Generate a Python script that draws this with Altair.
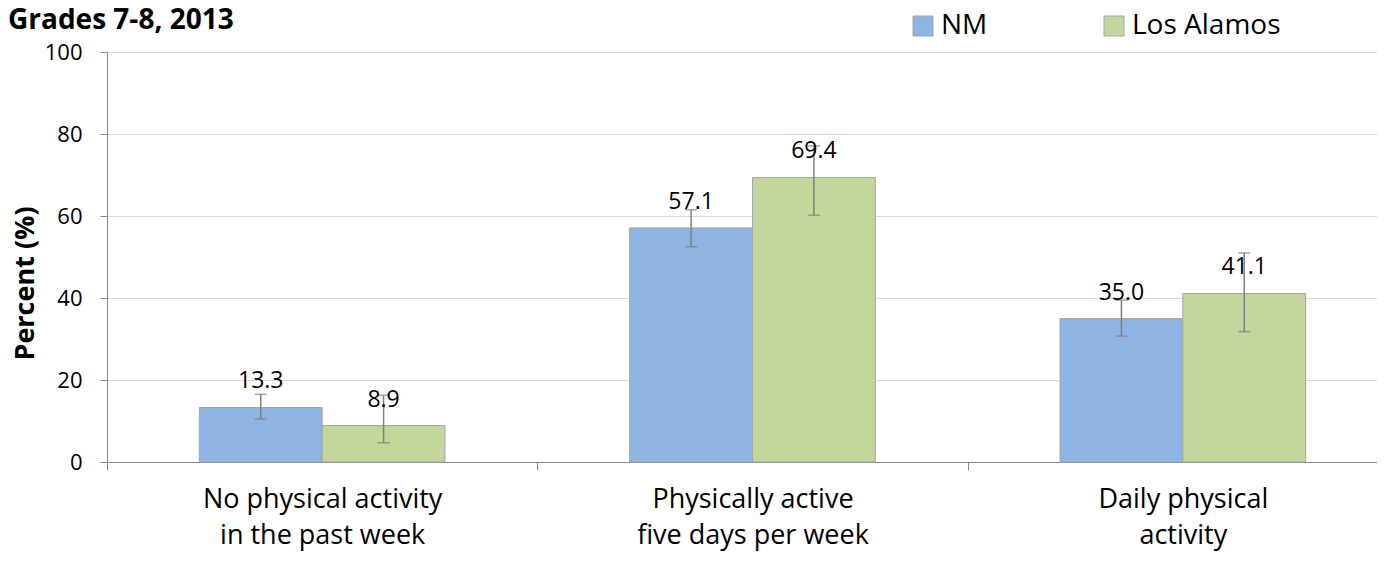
import altair as alt
import pandas as pd

categories = ["No physical activity|in the past week",
              "Physically active|five days per week",
              "Daily physical|activity"]
series = ["NM", "Los Alamos"]
nm_values = [13.3, 57.1, 35.0]
la_values = [8.9, 69.4, 41.1]
nm_low = [10.5, 52.5, 30.7]
nm_high = [16.5, 61.5, 39.5]
la_low = [4.7, 60.2, 31.8]
la_high = [16.3, 77.1, 51.0]
colors = ["#8EB4E3", "#C3D69B"]
y_ticks = [0, 20, 40, 60, 80, 100]

rows = []
for i, c in enumerate(categories):
    rows.append({"category": c, "series": series[0], "value": nm_values[i],
                 "low": nm_low[i], "high": nm_high[i]})
    rows.append({"category": c, "series": series[1], "value": la_values[i],
                 "low": la_low[i], "high": la_high[i]})
df = pd.DataFrame(rows)

FONT = "Open Sans"

x = alt.X("category:N", sort=categories,
          scale=alt.Scale(range=[0, 1291], paddingInner=0, paddingOuter=0),
          axis=alt.Axis(title=None,
                        labelExpr="datum.value ? split(datum.value, '|') : ''",
                        labelAngle=0, tickBand="extent", tickSize=8,
                        tickColor="#868686", domainColor="#868686",
                        labelFontSize=27, labelFont=FONT, labelColor="#000000",
                        labelLineHeight=36, labelPadding=16, labelLimit=0,
                        grid=False))
xo = alt.XOffset("series:N", sort=series,
                 scale=alt.Scale(paddingOuter=0.752, paddingInner=0))
yscale = alt.Scale(domain=[0, 100])

bars = alt.Chart(df).mark_bar(stroke="#A6A6A6", strokeWidth=1).encode(
    x=x, xOffset=xo,
    y=alt.Y("value:Q", scale=yscale,
            axis=alt.Axis(values=y_ticks, title="Percent (%)",
                          titleFont=FONT, titleFontSize=27, titleFontWeight="bold",
                          titleColor="#000000", titleAngle=-90,
                          titleX=-82, titleY=231, titleAlign="center",
                          titleBaseline="middle",
                          labelFont=FONT, labelFontSize=22, labelColor="#000000",
                          labelPadding=18, tickSize=7, tickColor="#868686",
                          domainColor="#868686", gridColor="#D9D9D9", grid=True)),
    color=alt.Color("series:N", sort=series,
                    scale=alt.Scale(domain=series, range=colors),
                    legend=alt.Legend(orient="none", legendX=802, legendY=-40,
                                      direction="horizontal", title=None,
                                      symbolType="square", symbolSize=400,
                                      symbolStrokeColor="#A6A6A6",
                                      symbolStrokeWidth=1,
                                      labelFont=FONT, labelFontSize=28,
                                      labelColor="#000000", labelOffset=4,
                                      columnPadding=112)),
)

err = alt.Chart(df).mark_rule(color="#7F7F7F", strokeWidth=1.5).encode(
    x=x, xOffset=xo, y=alt.Y("low:Q", scale=yscale), y2="high:Q")

cap_lo = alt.Chart(df).mark_tick(color="#7F7F7F", thickness=1.5, size=12,
                                 orient="horizontal").encode(
    x=x, xOffset=xo, y=alt.Y("low:Q", scale=yscale))
cap_hi = alt.Chart(df).mark_tick(color="#7F7F7F", thickness=1.5, size=12,
                                 orient="horizontal").encode(
    x=x, xOffset=xo, y=alt.Y("high:Q", scale=yscale))

labels = alt.Chart(df).mark_text(dy=-19, baseline="alphabetic", fontSize=23,
                                 font=FONT, color="#000000").encode(
    x=x, xOffset=xo, y=alt.Y("value:Q", scale=yscale),
    text=alt.Text("value:Q", format=".1f"))

chart = alt.layer(bars, err, cap_lo, cap_hi, labels).properties(
    width=1270, height=410,
    autosize=alt.AutoSizeParams(type="none"),
    padding={"left": 99, "top": 44, "right": 0, "bottom": 92},
    title=alt.TitleParams("Grades 7-8, 2013", anchor="start", frame="group",
                          dx=-99, dy=45, baseline="alphabetic", offset=0,
                          font=FONT, fontSize=28, fontWeight="bold",
                          color="#000000"),
).configure_view(stroke=None).configure_axis(labelOverlap=False)

chart.save("out.html", embed_options={"renderer": "svg", "actions": False})
